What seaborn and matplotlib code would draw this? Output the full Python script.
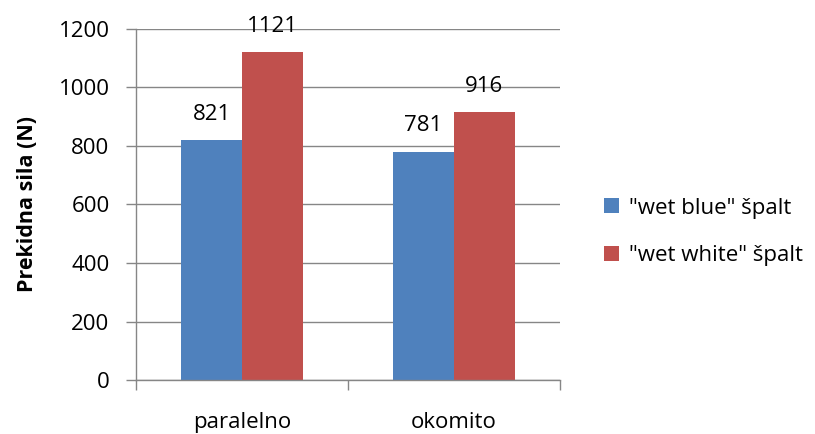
import matplotlib
matplotlib.use("Agg")
import matplotlib.pyplot as plt
import seaborn as sns
import pandas as pd
from matplotlib.patches import Patch

categories = ["paralelno", "okomito"]
series_names = ['"wet blue" špalt', '"wet white" špalt']
wet_blue = [821, 781]
wet_white = [1121, 916]
colors = ["#4F81BD", "#C0504D"]
y_ticks = [0, 200, 400, 600, 800, 1000, 1200]
y_label = "Prekidna sila (N)"

df = pd.DataFrame({
    "kategorija": categories * 2,
    "serija": [series_names[0]] * 2 + [series_names[1]] * 2,
    "vrijednost": wet_blue + wet_white,
})

sns.set_theme(style="white")
plt.rcParams["font.family"] = ["Open Sans", "DejaVu Sans"]
plt.rcParams["text.color"] = "black"
plt.rcParams["axes.labelcolor"] = "black"
plt.rcParams["xtick.color"] = "black"
plt.rcParams["ytick.color"] = "black"
FS = 16
grey = "#868686"

fig = plt.figure(figsize=(8.15, 4.34), dpi=100)
ax = fig.add_axes([136/815, 54/434, 424/815, 351/434])

sns.barplot(data=df, x="kategorija", y="vrijednost", hue="serija",
            palette=colors, width=0.575, gap=0, linewidth=0, saturation=1,
            ax=ax, legend=False, errorbar=None)

for cont in ax.containers:
    ax.bar_label(cont, padding=11, fontsize=FS, color="black")

ax.set_xlim(-0.5, 1.5)
ax.set_ylim(0, 1200)
ax.set_yticks(y_ticks)
ax.yaxis.grid(True, color=grey, linewidth=1)
ax.set_axisbelow(True)
for s in ["top", "right"]:
    ax.spines[s].set_visible(False)
for s in ["left", "bottom"]:
    ax.spines[s].set_color(grey)
    ax.spines[s].set_linewidth(1)

ax.tick_params(axis="y", which="major", left=True, length=7, width=1, color=grey,
               labelsize=FS, labelcolor="black", pad=12, direction="out")
ax.set_xticks([0, 1])
ax.set_xticklabels(categories)
ax.set_xticks([-0.5, 0.5, 1.5], minor=True)
ax.tick_params(axis="x", which="major", length=0, labelsize=FS, labelcolor="black", pad=23)
ax.tick_params(axis="x", which="minor", bottom=True, length=7, width=1, color=grey,
               direction="out")
ax.set_xlabel("")
ax.set_ylabel(y_label, fontsize=15.5, fontweight="bold", color="black")
ax.yaxis.set_label_coords(-98/424, 0.5)

handles = [Patch(facecolor=c, edgecolor="none") for c in colors]
fig.legend(handles, series_names, loc="center left",
           bbox_to_anchor=(593/815, 1 - 232/434), frameon=False, fontsize=FS,
           handlelength=0.65, handleheight=0.65, handletextpad=0.45,
           labelspacing=1.2, borderpad=0)

fig.savefig("out.png", dpi=100)
